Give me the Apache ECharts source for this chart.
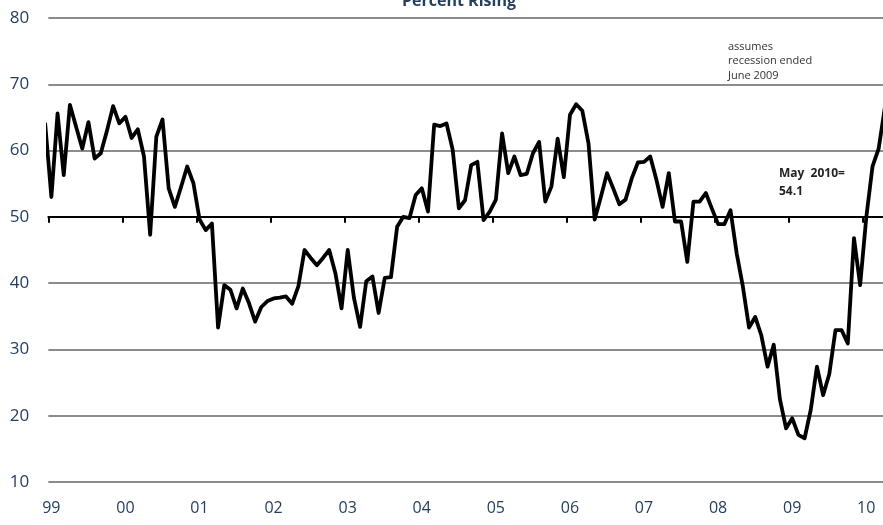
<!DOCTYPE html>
<html>
<head>
<meta charset="utf-8">
<script src="https://cdn.jsdelivr.net/npm/echarts@6/dist/echarts.min.js"></script>
<style>html,body{margin:0;padding:0;background:#fff}#c{width:883px;height:525px}</style>
</head>
<body>
<div id="c"></div>
<script>
// Monthly values, percent rising. First value is Dec 1998 (clipped at the left edge).
const v1998 = [64.0];
const v1999 = [53.0, 65.6, 56.3, 66.9, 63.6, 60.3, 64.3, 58.8, 59.6, 63.0, 66.7, 64.1];
const v2000 = [65.1, 61.9, 63.2, 59.1, 47.3, 62.1, 64.7, 54.3, 51.5, 54.5, 57.6, 55.1];
const v2001 = [49.6, 48.0, 49.0, 33.3, 39.7, 39.0, 36.2, 39.2, 37.0, 34.2, 36.4, 37.3];
const v2002 = [37.7, 37.8, 38.0, 36.9, 39.5, 45.0, 43.8, 42.7, 43.8, 45.0, 41.5, 36.2];
const v2003 = [45.0, 37.8, 33.4, 40.3, 41.0, 35.5, 40.8, 40.9, 48.5, 50.0, 49.8, 53.3];
const v2004 = [54.3, 50.8, 63.9, 63.7, 64.1, 60.1, 51.3, 52.5, 57.8, 58.3, 49.5, 50.8];
const v2005 = [52.6, 62.6, 56.6, 59.1, 56.3, 56.5, 59.6, 61.3, 52.3, 54.6, 61.8, 56.0];
const v2006 = [65.4, 67.0, 66.0, 61.1, 49.6, 53.0, 56.6, 54.3, 51.9, 52.6, 55.8, 58.2];
const v2007 = [58.3, 59.1, 55.6, 51.5, 56.6, 49.3, 49.3, 43.2, 52.3, 52.3, 53.6, 51.2];
const v2008 = [48.9, 48.9, 51.0, 44.5, 39.5, 33.3, 34.9, 32.1, 27.4, 30.7, 22.5, 18.1];
const v2009 = [19.6, 17.1, 16.6, 20.9, 27.4, 23.1, 26.3, 32.9, 32.9, 30.9, 46.8, 39.7];
const v2010 = [50.0, 57.6, 60.3, 66.5];

const yearLabels = ['99','00','01','02','03','04','05','06','07','08','09','10'];
const yTicks = [10, 20, 30, 40, 50, 60, 70, 80];
const titleText = 'Percent Rising';
const noteLines = ['assumes', 'recession ended', 'June 2009'];
const mayLines = ['May  2010=', '54.1'];

const values = [].concat(v1998, v1999, v2000, v2001, v2002, v2003, v2004, v2005, v2006, v2007, v2008, v2009, v2010);
// month index: 0 = Jan 1999 boundary; a month's point sits in the middle of its month
const seriesData = values.map((v, i) => [i - 1 + 0.5, v]);
const yearTickValues = yearLabels.map((_, i) => i * 12);

const navy = '#243e5e';
const X_MAX = 135.2;
const gridTop = 18, gridBottom = 43, H = 525;
const gridH = H - gridTop - gridBottom;
const fiftyOffset = -(gridH * (50 - 10) / (80 - 10));

const chart = echarts.init(document.getElementById('c'), null, {renderer: 'canvas'});
chart.setOption({
  animation: false,
  backgroundColor: '#fff',
  grid: {left: 48.3, right: 0, top: gridTop, bottom: gridBottom, containLabel: false, outerBoundsMode: 'none'},
  xAxis: [
    {
      type: 'value', min: 0, max: X_MAX, interval: 12, position: 'bottom',
      axisLine: {show: false, onZero: false}, axisTick: {show: false}, splitLine: {show: false},
      axisLabel: {
        customValues: yearTickValues,
        formatter: v => yearLabels[Math.round(v / 12)],
        margin: 18, fontSize: 16, color: navy, fontFamily: 'Open Sans', padding: [0, 0, 0, 6]
      }
    },
    {
      type: 'value', min: 0, max: X_MAX, interval: 12, position: 'bottom', offset: fiftyOffset,
      axisLine: {show: true, onZero: false, lineStyle: {color: '#000', width: 2}},
      axisTick: {show: true, length: 6, customValues: yearTickValues, lineStyle: {color: '#000', width: 2}},
      axisLabel: {show: false}, splitLine: {show: false}
    }
  ],
  yAxis: {
    type: 'value', min: 10, max: 80, interval: 10,
    axisLine: {show: false}, axisTick: {show: false},
    axisLabel: {fontSize: 17, color: navy, fontFamily: 'Open Sans', margin: 19},
    splitLine: {show: true, lineStyle: {color: yTicks.map(t => t === 50 ? '#000' : '#8c8c8c'), width: 2}}
  },
  series: [{
    type: 'line', data: seriesData, xAxisIndex: 0, showSymbol: false, symbol: 'none',
    clip: true, z: 5,
    lineStyle: {color: '#000', width: 3.8, join: 'round', cap: 'round'}
  }],
  graphic: [
    {type: 'text', x: 459, y: -7, style: {text: titleText, fontSize: 16, fontWeight: 'bold', fill: navy, fontFamily: 'Open Sans', align: 'center', verticalAlign: 'top'}, z: 10},
    {type: 'text', x: 728, y: 40, style: {text: noteLines.join('\n'), fontSize: 11, lineHeight: 14.2, fill: '#333', fontFamily: 'Open Sans'}, z: 10},
    {type: 'text', x: 779, y: 165, style: {text: mayLines.join('\n'), fontSize: 12, lineHeight: 18, fontWeight: 'bold', fill: '#222', fontFamily: 'Open Sans'}, z: 10}
  ]
});
</script>
</body>
</html>
